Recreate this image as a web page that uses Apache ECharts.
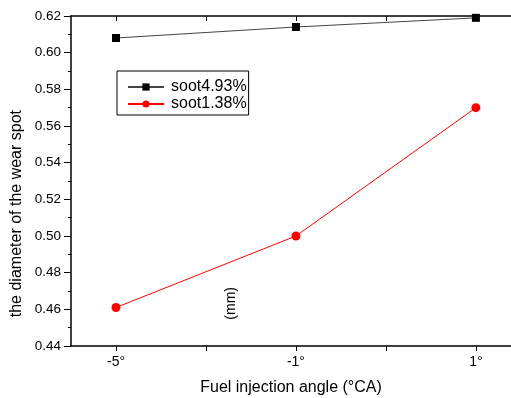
<!DOCTYPE html>
<html>
<head>
<meta charset="utf-8">
<script src="https://cdn.jsdelivr.net/npm/echarts@6/dist/echarts.min.js"></script>
<style>
  html, body { margin: 0; padding: 0; background: #fff; }
  #main { width: 511px; height: 398px; }
</style>
</head>
<body>
<div id="main"></div>
<script>
// angle labels sit on slots 0, 2, 4; slots 1 and 3 only get a tick
const angles = ['-5°', '-1°', '1°'];
const angleSlots = [0, 2, 4];
const tickSlots = [0, 1, 2, 3, 4];
const soot493 = [0.608, 0.614, 0.619];
const soot138 = [0.461, 0.500, 0.570];
const yMin = 0.44;
const yMax = 0.62;
const yStep = 0.02;

const font = 'Liberation Sans, Arial, sans-serif';
const pair = (vals) => vals.map((v, i) => [angleSlots[i], v]);
const slotLabel = (v) => {
  const i = angleSlots.indexOf(Math.round(v));
  return i >= 0 ? angles[i] : '';
};

// plot is cut off on the right, like the original figure
const xRange = { min: -0.5, max: 4.39 };

const chart = echarts.init(document.getElementById('main'));
chart.setOption({
  animation: false,
  grid: { left: 71, top: 16, right: 0, height: 330, outerBoundsMode: 'none', containLabel: false },
  legend: {
    left: 117,
    top: 71,
    orient: 'vertical',
    itemGap: 1,
    itemWidth: 36,
    itemHeight: 9,
    padding: [8, 2, 3, 10],
    borderColor: '#000',
    borderWidth: 1,
    textStyle: { fontFamily: font, fontSize: 16, color: '#000', padding: [0, 0, 0, 2] },
    data: ['soot4.93%', 'soot1.38%'],
  },
  xAxis: [
    {
      type: 'value',
      ...xRange,
      splitLine: { show: false },
      axisLine: { onZero: false, lineStyle: { color: '#000', width: 1.5 } },
      axisTick: { customValues: tickSlots, length: 5, lineStyle: { color: '#000' } },
      axisLabel: {
        customValues: angleSlots,
        color: '#000',
        fontFamily: font,
        fontSize: 14,
        margin: 9,
        formatter: slotLabel,
      },
      name: 'Fuel injection angle (°CA)',
      nameLocation: 'middle',
      nameGap: 34,
      nameTextStyle: { fontFamily: font, fontSize: 16, color: '#000' },
    },
    {
      type: 'value',
      ...xRange,
      position: 'top',
      splitLine: { show: false },
      axisLine: { onZero: false, lineStyle: { color: '#000', width: 1.5 } },
      axisTick: { customValues: tickSlots, inside: true, length: 5, lineStyle: { color: '#000' } },
      axisLabel: { show: false },
    },
  ],
  yAxis: {
    type: 'value',
    min: yMin,
    max: yMax,
    interval: yStep,
    axisLine: { show: true, onZero: false, lineStyle: { color: '#000', width: 1.5 } },
    axisTick: { show: true, length: 7, lineStyle: { color: '#000' } },
    minorTick: { show: true, splitNumber: 2, length: 3, lineStyle: { color: '#000' } },
    splitLine: { show: false },
    axisLabel: {
      color: '#000',
      fontFamily: font,
      fontSize: 13.5,
      margin: 10,
      formatter: (v) => v.toFixed(2),
    },
  },
  graphic: [
    {
      type: 'text',
      left: 9,
      top: 110,
      rotation: Math.PI / 2,
      style: { text: 'the diameter of the wear spot', fontFamily: font, fontSize: 16, fill: '#000' },
    },
    {
      type: 'text',
      left: 224,
      top: 287,
      rotation: Math.PI / 2,
      style: { text: '(mm)', fontFamily: font, fontSize: 14, fill: '#000' },
    },
  ],
  series: [
    {
      name: 'soot4.93%',
      type: 'line',
      data: pair(soot493),
      symbol: 'rect',
      symbolSize: 8,
      itemStyle: { color: '#000' },
      lineStyle: { color: '#444', width: 1 },
    },
    {
      name: 'soot1.38%',
      type: 'line',
      data: pair(soot138),
      symbol: 'circle',
      symbolSize: 9,
      itemStyle: { color: '#ff0000' },
      lineStyle: { color: '#ff0000', width: 1 },
    },
  ],
});
</script>
</body>
</html>
